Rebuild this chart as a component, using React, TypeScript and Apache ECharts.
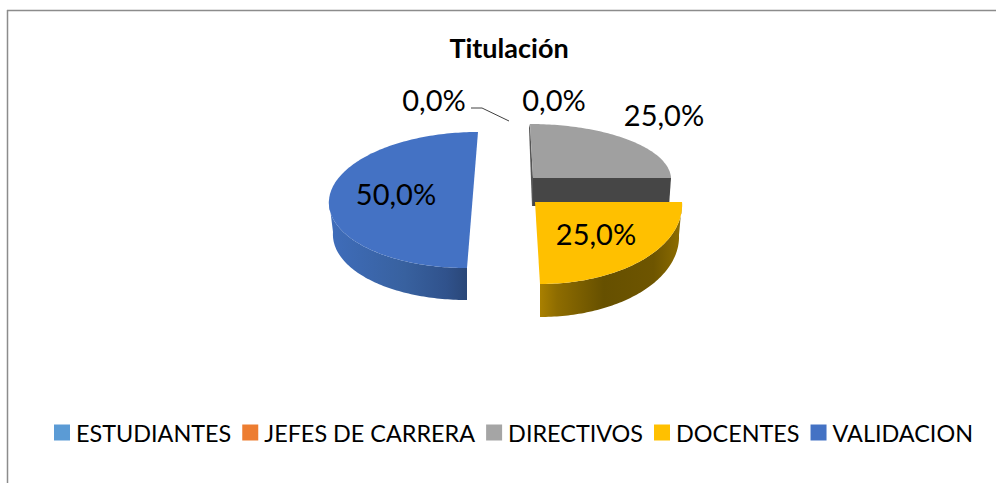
import React, { useEffect, useRef } from "react";
import * as echarts from "echarts";

const categories = ["ESTUDIANTES", "JEFES DE CARRERA", "DIRECTIVOS", "DOCENTES", "VALIDACION"];
const values = [0, 0, 25, 25, 50];
const colors = ["#5B9BD5", "#ED7D31", "#A5A5A5", "#FFC000", "#4472C4"];
const titleText = "Titulación";

const total = values.reduce((a, b) => a + b, 0);
const FONT = "Lato, 'Noto Sans', sans-serif";

type Geo = { cx: number; cy: number; rx: number; ry: number; shear: number; bx: number; by: number; brx: number; bry: number; bshear: number; lx: number; ly: number };
const geometry: Geo[] = [
  { cx: 0, cy: 0, rx: 0, ry: 0, shear: 0, bx: 0, by: 0, brx: 0, bry: 0, bshear: 0, lx: 434, ly: 99 },
  { cx: 0, cy: 0, rx: 0, ry: 0, shear: 0, bx: 0, by: 0, brx: 0, bry: 0, bshear: 0, lx: 554, ly: 99 },
  { cx: 533, cy: 178, rx: 138, ry: 54, shear: -3, bx: 533, by: 206, brx: 136, bry: 54, bshear: -3, lx: 664, ly: 114 },
  { cx: 535, cy: 202, rx: 147, ry: 82, shear: -5, bx: 537, by: 235, brx: 142, bry: 82, bshear: -3, lx: 596, ly: 233 },
  { cx: 472.5, cy: 200, rx: 143.5, ry: 68, shear: 5.5, bx: 472, by: 232, brx: 139, bry: 68, bshear: 5, lx: 396, ly: 193 },
];

const pct = (v: number) => ((v / total) * 100).toFixed(1).replace(".", ",") + "%";

function arcPoints(cx: number, cy: number, rx: number, ry: number, shear: number, a0: number, a1: number) {
  const pts: number[][] = [];
  const n = Math.max(2, Math.ceil(Math.abs(a1 - a0) / 0.02));
  for (let i = 0; i <= n; i++) {
    const t = a0 + ((a1 - a0) * i) / n;
    pts.push([cx + rx * Math.sin(t) + shear * Math.cos(t), cy - ry * Math.cos(t)]);
  }
  return pts;
}

function wallFill(i: number) {
  if (i === 3)
    return new echarts.graphic.LinearGradient(0, 0, 1, 0, [
      { offset: 0, color: "#A98000" },
      { offset: 0.12, color: "#8E6C00" },
      { offset: 0.45, color: "#665000" },
      { offset: 0.8, color: "#6E5500" },
      { offset: 1, color: "#8F6E00" },
    ]);
  return new echarts.graphic.LinearGradient(0, 0, 1, 0, [
    { offset: 0, color: "#3F6DBB" },
    { offset: 0.55, color: "#38619F" },
    { offset: 0.85, color: "#30528C" },
    { offset: 1, color: "#2A4778" },
  ]);
}

function makeRenderItem(i: number) {
  return (_params: any, api: any) => {
    const value = api.value(0) as number;
    const before = values.slice(0, i).reduce((a, b) => a + b, 0);
    const a0 = (before / total) * 2 * Math.PI;
    const a1 = ((before + value) / total) * 2 * Math.PI;
    const g = geometry[i];
    const children: any[] = [];
    if (value > 0) {
      const topArc = arcPoints(g.cx, g.cy, g.rx, g.ry, g.shear, a0, a1);
      const wa0 = Math.max(a0, Math.PI / 2);
      const wa1 = Math.min(a1, (3 * Math.PI) / 2);
      if (wa1 > wa0) {
        const up = arcPoints(g.cx, g.cy, g.rx, g.ry, g.shear, wa0, wa1);
        const low = arcPoints(g.bx, g.by, g.brx, g.bry, g.bshear, wa0, wa1).reverse();
        children.push({ type: "polygon", shape: { points: up.concat(low) }, style: { fill: wallFill(i) } });
      }
      if (i === 2) {
        const right = arcPoints(g.cx, g.cy, g.rx, g.ry, g.shear, a1, a1)[0];
        const rightLow = arcPoints(g.bx, g.by, g.brx, g.bry, g.bshear, a1, a1)[0];
        children.push({
          type: "polygon",
          shape: { points: [[g.cx, g.cy], right, rightLow, [g.bx, g.by]] },
          style: { fill: "#464646" },
        });
        const top = arcPoints(g.cx, g.cy, g.rx, g.ry, g.shear, a0, a0)[0];
        children.push({
          type: "polygon",
          shape: { points: [top, [g.cx, g.cy], [g.bx, g.by], [g.bx - 1, g.by], [top[0] - 1, top[1] + 4]] },
          style: { fill: "#555555" },
        });
      }
      children.push({
        type: "polygon",
        shape: { points: [[g.cx, g.cy], ...topArc] },
        style: { fill: i === 2 ? "#A0A0A0" : colors[i] },
      });
    }
    if (i === 0) {
      children.push({
        type: "polyline",
        shape: { points: [[471, 108], [482, 108], [509, 121]] },
        style: { stroke: "#404040", lineWidth: 1, fill: "none" },
      });
    }
    children.push({
      type: "text",
      x: g.lx,
      y: g.ly,
      style: { text: pct(value), fill: "#000000", font: `29px ${FONT}`, textAlign: "center", textVerticalAlign: "middle" },
    });
    return { type: "group", children };
  };
}

export default function App() {
  const ref = useRef<HTMLDivElement>(null);
  useEffect(() => {
    const chart = echarts.init(ref.current!, null, { renderer: "svg" });
    chart.setOption({
      animation: false,
      backgroundColor: "#ffffff",
      title: {
        text: titleText,
        left: 504,
        top: 29,
        textAlign: "center",
        textStyle: { fontFamily: FONT, fontSize: 27, fontWeight: "bold", color: "#000000" },
      },
      legend: {
        left: 54,
        right: 0,
        top: 421,
        padding: 0,
        itemWidth: 16,
        itemHeight: 16,
        itemGap: 11,
        icon: "rect",
        selectedMode: false,
        textStyle: { fontFamily: FONT, fontSize: 23.4, color: "#000000", padding: [0, 0, 0, 1] },
        data: categories,
      },
      graphic: [
        { type: "line", shape: { x1: 7, y1: 10.5, x2: 996, y2: 10.5 }, style: { stroke: "#8C8C8C", lineWidth: 1.5 } },
        { type: "line", shape: { x1: 7.5, y1: 10, x2: 7.5, y2: 483 }, style: { stroke: "#8C8C8C", lineWidth: 1.5 } },
      ],
      series: categories.map((name, i) => ({
        type: "custom",
        name,
        coordinateSystem: "none",
        itemStyle: { color: colors[i] },
        data: [[values[i]]],
        renderItem: makeRenderItem(i),
      })),
    });
    return () => chart.dispose();
  }, []);
  return <div ref={ref} style={{ position: "fixed", left: 0, top: 0, width: 996, height: 483 }} />;
}
